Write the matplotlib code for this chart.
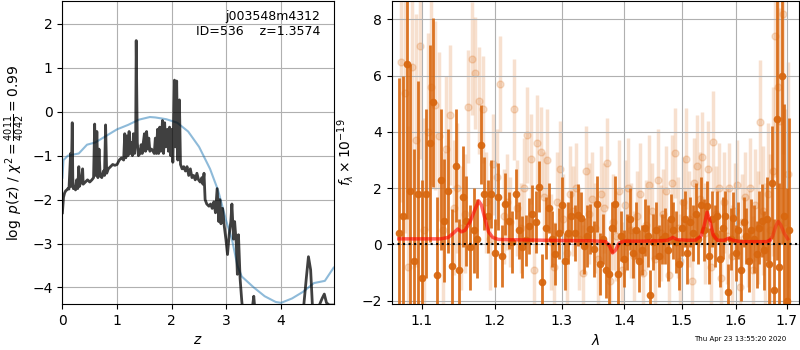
import matplotlib
matplotlib.use('Agg')
import matplotlib.pyplot as plt
from matplotlib.ticker import FixedLocator, FixedFormatter, NullLocator

# p(z) curve (black) and prior/template curve (blue)
z_pz = [0.00, 0.02, 0.04, 0.06, 0.08, 0.10, 0.12, 0.14, 0.15, 0.16, 0.17, 0.18, 0.19, 0.20,
        0.22, 0.24, 0.26, 0.28, 0.30, 0.31, 0.34, 0.37, 0.38, 0.42, 0.46, 0.50, 0.54, 0.57,
        0.59, 0.61, 0.63, 0.65, 0.67, 0.69, 0.72, 0.75, 0.77, 0.79, 0.81, 0.84, 0.88, 0.92,
        0.96, 1.00, 1.04, 1.08, 1.12, 1.14, 1.16, 1.18, 1.20, 1.22, 1.24, 1.26, 1.28, 1.30,
        1.32, 1.34, 1.35, 1.37, 1.39, 1.42, 1.44, 1.46, 1.48, 1.50, 1.52, 1.54, 1.56, 1.58,
        1.60, 1.63, 1.66, 1.68, 1.70, 1.72, 1.74, 1.76, 1.78, 1.80, 1.83, 1.85, 1.87, 1.89,
        1.92, 1.94, 1.96, 1.98, 2.00, 2.02, 2.05, 2.07, 2.09, 2.11, 2.14, 2.16, 2.19, 2.22,
        2.25, 2.28, 2.31, 2.34, 2.37, 2.40, 2.43, 2.46, 2.49, 2.52, 2.55, 2.57, 2.59, 2.61,
        2.64, 2.68, 2.71, 2.74, 2.77, 2.80, 2.83, 2.86, 2.88, 2.90, 2.93, 2.96, 2.99, 3.02,
        3.05, 3.08, 3.10, 3.13, 3.15, 3.18, 3.20, 3.22, 3.25, 3.28, 3.32, 3.40, 3.46, 3.48,
        3.50, 3.52, 3.60, 3.80, 4.00, 4.20, 4.40, 4.46, 4.50, 4.54, 4.58, 4.65, 4.70, 4.75,
        4.79, 4.83, 4.88, 4.96]
logp = [-2.3, -1.95, -1.85, -1.8, -1.78, -1.75, -1.76, -1.2, -0.95, -1.7, -1.0, -0.25, -1.5, -1.75,
        -1.7, -1.78, -1.55, -1.75, -1.25, -1.7, -1.6, -1.3, -1.65, -1.6, -1.55, -1.6, -1.55, -1.5,
        -0.28, -1.45, -0.45, -1.5, -0.85, -1.45, -1.5, -1.35, -1.45, -0.3, -1.4, -1.3, -1.25, -1.2,
        -1.22, -1.2, -1.1, -1.05, -1.1, -0.5, -1.05, -0.55, -1.0, -0.45, -0.95, -0.7, -1.0, -0.5,
        -0.95, -0.6, 1.62, -0.7, -1.0, -0.95, -0.75, -0.95, -0.7, -0.5, -0.9, -0.45, -0.85, -0.6,
        -0.9, -0.85, -0.9, -0.95, -0.6, -0.95, -0.4, -0.95, -0.35, -0.9, -0.2, -0.95, -0.25, -0.8,
        -0.4, -0.9, -0.35, -1.0, -0.4, -1.15, 0.72, -0.8, 0.7, -1.1, 0.27, -1.2, -1.3, -1.25,
        -1.35, -1.25, -1.45, -1.3, -1.5, -1.45, -1.55, -1.4, -1.55, -1.6, -1.5, -1.65, -1.4, -2.0,
        -2.1, -2.15, -2.1, -2.2, -2.05, -2.3, -1.75, -2.5, -2.0, -2.55, -2.2, -2.6, -2.9, -3.25,
        -2.8, -2.5, -2.1, -2.9, -2.5, -3.0, -3.7, -2.8, -3.8, -4.3, -4.8, -5.0, -4.7, -4.4,
        -4.2, -4.5, -4.8, -5.0, -5.0, -4.9, -4.6, -3.8, -3.3, -3.6, -4.6, -4.6, -4.4, -4.25,
        -4.15, -4.35, -4.4, -4.4]

z_blue = [0.00, 0.02, 0.10, 0.30, 0.45, 0.60, 0.80, 1.00, 1.20, 1.40, 1.60, 1.70, 1.90, 2.10,
          2.30, 2.50, 2.70, 2.85, 3.00, 3.10, 3.20, 3.28, 3.50, 3.70, 3.90, 4.00, 4.20, 4.40,
          4.60, 4.80, 4.96]
logp_blue = [-1.5, -1.1, -1.0, -0.95, -0.75, -0.7, -0.55, -0.4, -0.3, -0.18, -0.12, -0.13, -0.17, -0.25,
             -0.45, -0.8, -1.3, -1.8, -2.5, -2.9, -3.5, -3.75, -4.0, -4.2, -4.33, -4.35, -4.25, -4.1,
             -3.9, -3.85, -3.55]

# spectrum: primary (dark) and secondary (light) points
lam_dark = [1.070, 1.075, 1.080, 1.085, 1.090, 1.095, 1.100, 1.105, 1.110, 1.115,
            1.120, 1.125, 1.130, 1.135, 1.140, 1.145, 1.150, 1.155, 1.160, 1.165,
            1.170, 1.175, 1.180, 1.185, 1.190, 1.195, 1.200, 1.205, 1.210, 1.215,
            1.220, 1.225, 1.230, 1.235, 1.240, 1.245, 1.250, 1.255, 1.260, 1.265,
            1.270, 1.275, 1.280, 1.285, 1.290, 1.295, 1.300, 1.305, 1.310, 1.315,
            1.320, 1.325, 1.330, 1.335, 1.340, 1.345, 1.350, 1.355, 1.360, 1.365,
            1.370, 1.375, 1.380, 1.385, 1.390, 1.395, 1.400, 1.405, 1.410, 1.415,
            1.420, 1.425, 1.430, 1.435, 1.440, 1.445, 1.450, 1.455, 1.460, 1.465,
            1.470, 1.475, 1.480, 1.485, 1.490, 1.495, 1.500, 1.505, 1.510, 1.515,
            1.520, 1.525, 1.530, 1.535, 1.540, 1.545, 1.550, 1.555, 1.560, 1.565,
            1.570, 1.575, 1.580, 1.585, 1.590, 1.595, 1.600, 1.605, 1.610, 1.615,
            1.620, 1.625, 1.630, 1.635, 1.640, 1.645, 1.650, 1.655, 1.660, 1.665,
            1.670, 1.675, 1.680, 1.685, 1.690, 1.695, 1.700, 1.705]
flux_dark = [0.4, 1.0, 6.4, 1.9, -0.6, 1.8, -1.2, 1.8, 3.6, 5.05,
             -1.1, 2.3, 0.85, 1.9, -0.75, 2.8, -0.9, 1.7, 0.85, -0.1,
             0.5, 0.2, 3.55, 1.8, 1.0, 1.8, -0.3, 1.7, -0.4, 1.45,
             0.85, 0.1, 1.8, 0.5, -0.1, 0.15, 0.65, 1.1, 0.8, 2.05,
             -1.35, 0.6, 1.3, 0.2, -0.35, 0.4, 1.4, -0.6, 0.4, 1.0,
             0.4, 1.05, 0.95, -0.05, 0.3, 0.55, -0.15, 1.45, -0.7, 0.2,
             -0.9, -1.05, 0.6, 1.45, -1.05, 0.3, -0.5, 0.1, 0.9, -0.3,
             0.5, -0.6, -0.2, 0.6, 0.3, -1.8, 0.1, 0.5, -0.4, 0.2,
             0.3, -0.2, 0.9, 0.5, 0.1, -0.7, 0.6, 0.9, -0.3, 0.8,
             0.4, 1.1, 0.2, 1.4, 0.5, 1.35, -0.4, 0.9, 0.3, 1.0,
             -0.5, 0.6, 1.0, -1.7, 0.2, 0.95, -0.3, 0.5, -0.9, 0.8,
             0.3, -0.6, 0.5, 0.2, -0.35, 0.6, 0.85, -0.2, 0.9, -0.7,
             2.2, -1.6, 4.45, -0.8, 6.0, 1.0, -2.0, 0.5]
err_dark = [5.5, 5.0, 5.5, 4.5, 4.0, 4.0, 3.5, 3.0, 3.5, 3.0,
            2.8, 2.5, 2.2, 2.2, 2.0, 2.0, 1.8, 1.8, 1.6, 1.5,
            1.5, 1.4, 1.4, 1.3, 1.3, 1.2, 1.2, 1.2, 1.1, 1.1,
            1.0, 1.1, 0.9, 1.0, 1.1, 0.9, 1.0, 1.0, 1.1, 0.9,
            1.0, 1.1, 0.9, 1.0, 1.1, 0.9, 1.0, 1.0, 1.1, 0.9,
            1.0, 1.1, 0.9, 1.0, 1.1, 0.9, 1.0, 1.0, 1.1, 0.9,
            1.0, 1.1, 0.9, 1.0, 1.1, 0.9, 1.0, 1.0, 1.1, 0.9,
            1.0, 1.1, 0.9, 1.0, 1.1, 0.9, 1.0, 1.0, 1.1, 0.9,
            1.0, 1.1, 0.9, 1.0, 1.1, 0.9, 1.0, 1.0, 1.1, 0.9,
            1.0, 1.1, 0.9, 1.0, 1.1, 0.9, 1.0, 1.0, 1.1, 0.9,
            1.0, 1.1, 0.9, 1.0, 1.1, 0.9, 1.0, 1.0, 1.1, 0.9,
            1.0, 1.1, 1.1, 1.2, 1.2, 1.3, 1.3, 1.4, 1.5, 1.6,
            2.0, 2.5, 5.0, 3.0, 6.0, 4.0, 4.0, 4.0]

lam_light = [1.0725, 1.0775, 1.0825, 1.0875, 1.0925, 1.0975, 1.1025, 1.1075, 1.1125, 1.1175,
             1.1225, 1.1275, 1.1325, 1.1375, 1.1425, 1.1475, 1.1525, 1.1575, 1.1625, 1.1675,
             1.1725, 1.1775, 1.1825, 1.1875, 1.1925, 1.1975, 1.2025, 1.2075, 1.2125, 1.2175,
             1.2225, 1.2275, 1.2325, 1.2375, 1.2425, 1.2475, 1.2525, 1.2575, 1.2625, 1.2675,
             1.2725, 1.2775, 1.2825, 1.2875, 1.2925, 1.2975, 1.3025, 1.3075, 1.3125, 1.3175,
             1.3225, 1.3275, 1.3325, 1.3375, 1.3425, 1.3475, 1.3525, 1.3575, 1.3625, 1.3675,
             1.3725, 1.3775, 1.3825, 1.3875, 1.3925, 1.3975, 1.4025, 1.4075, 1.4125, 1.4175,
             1.4225, 1.4275, 1.4325, 1.4375, 1.4425, 1.4475, 1.4525, 1.4575, 1.4625, 1.4675,
             1.4725, 1.4775, 1.4825, 1.4875, 1.4925, 1.4975, 1.5025, 1.5075, 1.5125, 1.5175,
             1.5225, 1.5275, 1.5325, 1.5375, 1.5425, 1.5475, 1.5525, 1.5575, 1.5625, 1.5675,
             1.5725, 1.5775, 1.5825, 1.5875, 1.5925, 1.5975, 1.6025, 1.6075, 1.6125, 1.6175,
             1.6225, 1.6275, 1.6325, 1.6375, 1.6425, 1.6475, 1.6525, 1.6575, 1.6625, 1.6675,
             1.6725, 1.6775, 1.6825, 1.6875, 1.6925, 1.6975, 1.7025]
flux_light = [6.5, 5.4, -0.8, 6.3, 3.7, 7.05, 0.5, 4.0, 5.6, 4.95,
              3.85, 0.5, 3.4, 4.6, 1.3, 2.0, 0.6, 1.1, 4.9, 6.6,
              6.1, 5.1, 4.8, 1.5, 0.2, 2.85, 2.4, 5.7, 1.0, 1.5,
              0.8, 4.8, 1.3, 0.6, 2.0, 3.9, 3.05, -0.9, 3.6, 3.3,
              1.7, 3.0, 0.1, -0.8, 1.5, 2.7, 0.9, -0.3, 1.8, 1.2,
              2.0, 0.2, -1.0, 2.6, 1.1, 1.6, 0.6, -0.5, 1.8, 1.3,
              2.9, -1.3, 0.8, 0.3, 1.9, -0.9, 1.4, 2.0, 0.5, -0.4,
              1.0, 1.8, -1.0, 0.7, 2.1, 1.2, -0.5, 2.3, 0.4, 1.1,
              1.9, -1.1, 2.2, 3.25, 0.6, -0.6, 1.5, 3.05, 0.9, -1.3,
              2.2, 2.8, 1.6, 3.1, 0.4, 2.7, -0.8, 3.65, 1.1, 2.0,
              -1.2, 1.5, 0.3, 2.0, -0.4, 1.2, 2.1, -1.5, 0.8, 1.7,
              0.2, 2.0, -0.9, 1.4, 0.6, 4.35, 1.2, -0.2, 1.8, 0.5,
              2.6, 7.4, 5.6, 4.4, 8.2, 0.8, 2.5]
err_light = [5.0, 5.0, 5.0, 4.5, 4.5, 4.0, 4.0, 3.5, 3.5, 3.0,
             3.0, 2.8, 2.6, 2.5, 2.4, 2.3, 2.2, 2.1, 2.0, 2.0,
             2.0, 1.9, 1.9, 1.8, 1.8, 1.8, 1.7, 1.7, 1.7, 1.7,
             1.6, 1.8, 1.7, 1.6, 1.8, 1.7, 1.6, 1.8, 1.7, 1.6,
             1.6, 1.8, 1.7, 1.6, 1.8, 1.7, 1.6, 1.8, 1.7, 1.6,
             1.6, 1.8, 1.7, 1.6, 1.8, 1.7, 1.6, 1.8, 1.7, 1.6,
             1.6, 1.8, 1.7, 1.6, 1.8, 1.7, 1.6, 1.8, 1.7, 1.6,
             1.6, 1.8, 1.7, 1.6, 1.8, 1.7, 1.6, 1.8, 1.7, 1.6,
             1.6, 1.8, 1.7, 1.6, 1.8, 1.7, 1.6, 1.8, 1.7, 1.6,
             1.6, 1.8, 1.7, 1.6, 1.8, 1.7, 1.6, 1.8, 1.7, 1.6,
             1.6, 1.8, 1.7, 1.6, 1.8, 1.7, 1.6, 1.8, 1.7, 1.6,
             1.7, 1.8, 1.9, 2.0, 2.0, 2.2, 2.3, 2.4, 2.5, 2.7,
             3.0, 5.0, 5.0, 4.0, 5.0, 4.0, 4.0]

# best-fit model
lam_model = [1.070, 1.090, 1.110, 1.125, 1.135, 1.142, 1.148, 1.153, 1.158, 1.165,
             1.172, 1.177, 1.181, 1.186, 1.191, 1.197, 1.205, 1.220, 1.250, 1.300,
             1.350, 1.370, 1.376, 1.381, 1.386, 1.392, 1.400, 1.430, 1.460, 1.475,
             1.484, 1.492, 1.510, 1.525, 1.535, 1.541, 1.546, 1.551, 1.557, 1.565,
             1.578, 1.586, 1.594, 1.610, 1.640, 1.660, 1.666]
flux_model = [0.2, 0.2, 0.2, 0.2, 0.25, 0.4, 0.55, 0.45, 0.5, 0.8,
              1.25, 1.55, 1.4, 0.9, 0.45, 0.25, 0.18, 0.17, 0.16, 0.14,
              0.13, 0.1, -0.05, -0.3, -0.2, 0.05, 0.12, 0.12, 0.13, 0.15,
              0.25, 0.17, 0.15, 0.15, 0.3, 0.7, 1.15, 0.85, 0.35, 0.15,
              0.15, 0.22, 0.15, 0.1, 0.1, 0.1, 0.15]
lam_model2 = [1.666, 1.672, 1.678, 1.683, 1.688, 1.695, 1.702]
flux_model2 = [0.15, 0.3, 0.65, 0.82, 0.7, 0.4, 0.2]

orange = '#d8670f'

fig = plt.figure(figsize=(8, 3.5), dpi=100)

# --- p(z) panel
ax1 = fig.add_axes([0.078, 0.131, 0.339, 0.866])
ax1.plot(z_blue, logp_blue, color='#1f77b4', alpha=0.5, lw=1.5)
ax1.plot(z_pz, logp, color='k', alpha=0.75, lw=2)
ax1.set_xlim(0, 4.96)
ax1.set_ylim(max(logp) - 6, max(logp) + 0.9)
ax1.set_xticks([0, 1, 2, 3, 4])
ax1.set_yticks([-4, -3, -2, -1, 0, 1, 2])
ax1.set_xlabel('$z$')
ax1.set_ylabel(r'$\log\ p(z)$ / $\chi^2=\frac{4011}{4042}=0.99$')
ax1.grid()
ax1.text(0.95, 0.97, 'j003548m4312\nID=536    z=1.3574', transform=ax1.transAxes,
         ha='right', va='top', fontsize=9)

# --- spectrum panel
ax2 = fig.add_axes([0.4896, 0.131, 0.509, 0.866])
ax2.errorbar(lam_light, flux_light, yerr=err_light, color=orange, alpha=0.2,
             marker='o', ms=5, ls='none', elinewidth=2.5, zorder=1)
ax2.errorbar(lam_dark, flux_dark, yerr=err_dark, color=orange, alpha=0.9,
             marker='o', ms=4.5, ls='none', elinewidth=2, zorder=2)
ax2.plot(lam_model, flux_model, color='r', alpha=0.6, lw=2.5, zorder=3)
ax2.plot(lam_model2, flux_model2, color='r', alpha=0.35, lw=2.5, zorder=3)
ax2.axhline(0, color='k', ls=':', lw=1.5, zorder=4)

ax2.set_xscale('log')
ax2.set_xlim(1.061, 1.725)
ax2.set_ylim(-2.12, 8.65)
ax2.xaxis.set_major_locator(FixedLocator([1.1, 1.2, 1.3, 1.4, 1.5, 1.6, 1.7]))
ax2.xaxis.set_major_formatter(FixedFormatter(['1.1', '1.2', '1.3', '1.4', '1.5', '1.6', '1.7']))
ax2.xaxis.set_minor_locator(NullLocator())
ax2.set_yticks([-2, 0, 2, 4, 6, 8])
ax2.set_xlabel(r'$\lambda$')
ax2.set_ylabel(r'$f_\lambda \times 10^{-19}$')
ax2.grid()

fig.text(0.983, 0.022, 'Thu Apr 23 13:55:20 2020', ha='right', va='bottom', fontsize=5)

fig.savefig('out.png', dpi=100)
